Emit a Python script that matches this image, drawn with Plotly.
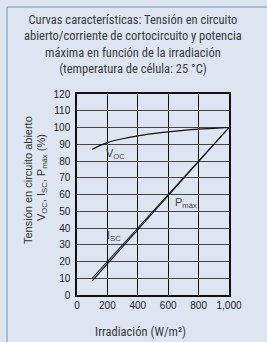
import plotly.graph_objects as go

irr_voc = [100, 150, 200, 300, 400, 500, 600, 700, 800, 900, 1000]
voc = [87, 89.2, 91, 93.3, 95, 96.3, 97.4, 98.3, 99, 99.5, 100]
irr_lin = [100, 1000]
isc = [10, 100]
pmax = [8.5, 100]
x_ticks = [0, 200, 400, 600, 800, 1000]
x_tick_labels = ["0", "200", "400", "600", "800", "1,000"]
y_ticks = list(range(0, 121, 10))

W, H = 267, 342
L, R, T, B = 77, 229, 94, 295
pw, ph = R - L, B - T

def px(x):
    return (x - L) / pw

def py(y):
    return (B - y) / ph

bg = "#dde6f0"
fig = go.Figure()
fig.add_trace(go.Scatter(x=irr_voc, y=voc, mode="lines", line=dict(color="#111", width=1.2), line_shape="spline", hoverinfo="skip"))
fig.add_trace(go.Scatter(x=irr_lin, y=isc, mode="lines", line=dict(color="#111", width=1.1), hoverinfo="skip"))
fig.add_trace(go.Scatter(x=irr_lin, y=pmax, mode="lines", line=dict(color="#111", width=1.1), hoverinfo="skip"))

fig.update_layout(
    width=W, height=H, showlegend=False,
    paper_bgcolor=bg, plot_bgcolor=bg,
    margin=dict(l=L, r=W - R, t=T, b=H - B, pad=0),
    font=dict(family="Liberation Sans, Arial, sans-serif", color="#222", size=10),
    xaxis=dict(range=[0, 1000], tickvals=x_ticks, ticktext=x_tick_labels, showgrid=True,
               gridcolor="#111", gridwidth=1, zeroline=False, showline=True, mirror=True,
               linecolor="#111", linewidth=1.5, ticks="",
               tickfont=dict(size=10, color="#222")),
    yaxis=dict(range=[0, 120], tickvals=y_ticks, showgrid=True, gridcolor="#444", gridwidth=1,
               zeroline=False, showline=True, mirror=True, linecolor="#111", linewidth=1.5,
               ticks="", ticklabelstandoff=3, tickfont=dict(size=10, color="#222")),
)

fig.add_shape(type="rect", xref="paper", yref="paper", x0=px(7), x1=px(400), y0=py(600), y1=py(7),
              line=dict(color="#6e94bd", width=1), layer="below", fillcolor=bg)

narrow = "Liberation Sans Narrow, Arial Narrow, Roboto Condensed, sans-serif"
def ann(**kw):
    kw.setdefault("showarrow", False)
    kw.setdefault("xanchor", "center")
    kw.setdefault("yanchor", "middle")
    fig.add_annotation(**kw)

ann(xref="paper", yref="paper", x=px(133), y=py(44),
    text="Curvas características: Tensión en circuito<br>abierto/corriente de cortocircuito y potencia<br>máxima en función de la irradiación<br>(temperatura de célula: 25 °C)",
    font=dict(family=narrow, size=12.5, color="#3a3a3a"))
ann(xref="paper", yref="paper", x=px(28), y=py(180), textangle=-90,
    text="Tensión en circuito abierto", font=dict(size=11, color="#333"))
ann(xref="paper", yref="paper", x=px(42), y=py(178), textangle=-90,
    text="V<sub>OC</sub>, I<sub>SC</sub>, P<sub>máx</sub> (%)", font=dict(size=11, color="#333"))
ann(xref="paper", yref="paper", x=px(140), y=py(331),
    text="Irradiación (W/m²)", font=dict(family=narrow, size=12.5, color="#3a3a3a"))
ann(x=250, y=84, text="V<sub>OC</sub>", font=dict(size=11, color="#444"))
ann(x=245, y=35, text="I<sub>SC</sub>", font=dict(size=11, color="#444"))
ann(x=715, y=55, text="P<sub>máx</sub>", font=dict(size=11, color="#444"))

fig.write_html("out.html", config={"displayModeBar": False},
               post_script="document.body.style.margin='0';document.body.style.background='#dde6f0';")
